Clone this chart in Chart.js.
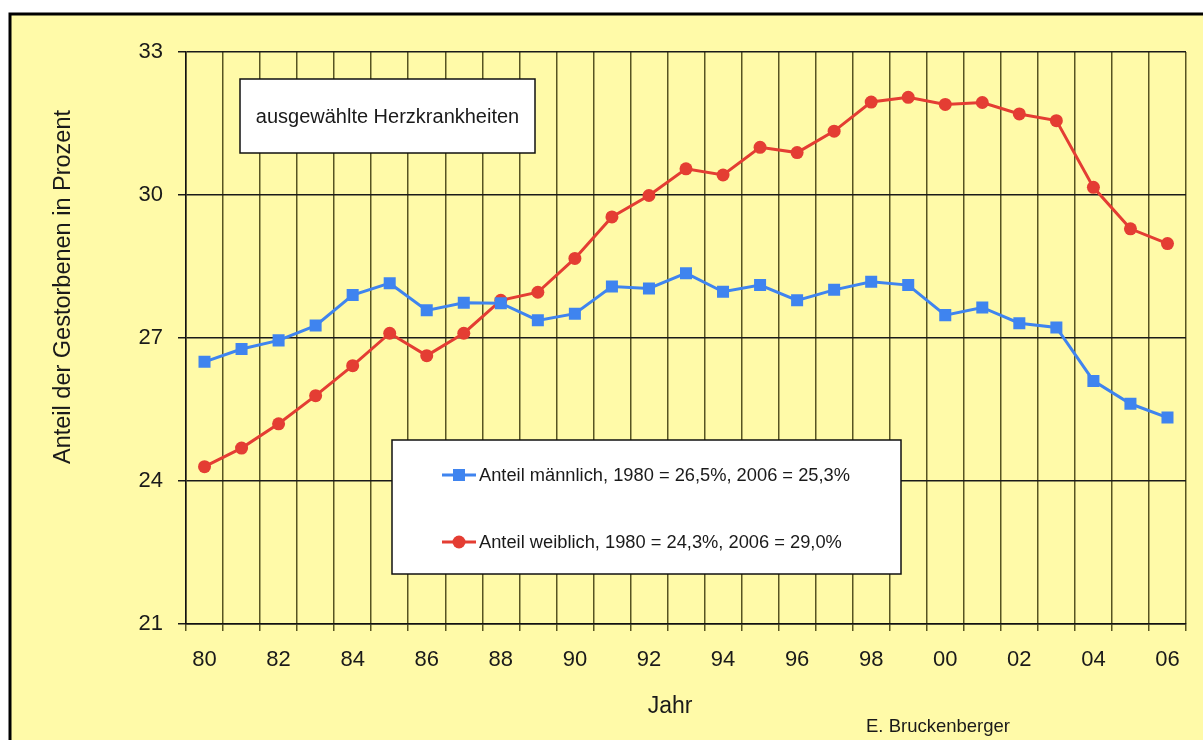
<!DOCTYPE html>
<html>
<head>
<meta charset="utf-8">
<script src="https://cdn.jsdelivr.net/npm/chart.js@4.4.1/dist/chart.umd.min.js"></script>
<style>
  html, body { margin: 0; padding: 0; background: #fff; }
  canvas { display: block; }
</style>
</head>
<body>
<canvas id="chart" width="1203" height="740"></canvas>
<script>
// ===== Anteil der Gestorbenen – ausgewählte Herzkrankheiten =====
const years = ['80', '81', '82', '83', '84', '85', '86', '87', '88', '89',
               '90', '91', '92', '93', '94', '95', '96', '97', '98', '99',
               '00', '01', '02', '03', '04', '05', '06'];

const maleShare = [26.5, 26.77, 26.95, 27.26, 27.9, 28.15, 27.58, 27.74, 27.73, 27.37,
                   27.51, 28.08, 28.04, 28.36, 27.97, 28.11, 27.79, 28.01, 28.18, 28.11,
                   27.48, 27.64, 27.31, 27.22, 26.1, 25.62, 25.33];

const femaleShare = [24.3, 24.69, 25.2, 25.79, 26.42, 27.1, 26.63, 27.1, 27.79, 27.96,
                     28.67, 29.54, 29.99, 30.55, 30.42, 31.0, 30.89, 31.34, 31.95, 32.05,
                     31.9, 31.94, 31.7, 31.56, 30.16, 29.29, 28.98];

const yMin = 21, yMax = 33, yStep = 3;

const maleLabel   = 'Anteil männlich, 1980 = 26,5%, 2006 = 25,3%';
const femaleLabel = 'Anteil weiblich, 1980 = 24,3%, 2006 = 29,0%';
const boxTitle    = 'ausgewählte Herzkrankheiten';
const yTitle      = 'Anteil der Gestorbenen in Prozent';
const xTitle      = 'Jahr';
const author      = 'E. Bruckenberger';

const FONT   = '"Liberation Sans", Arial, Helvetica, sans-serif';
const INK    = '#1a1a1a';
const YELLOW = '#fffaa8';
const BLUE   = '#3f84ef';
const RED    = '#e43d33';

// ---- frame, boxes and free texts ----
const framePlugin = {
  id: 'frame',
  beforeDraw(chart) {
    const { ctx, width, height } = chart;
    ctx.save();
    ctx.fillStyle = '#fff';
    ctx.fillRect(0, 0, width, height);
    ctx.fillStyle = YELLOW;
    ctx.fillRect(10, 14, width - 10, height - 14);
    ctx.strokeStyle = '#000';
    ctx.lineWidth = 3;
    ctx.beginPath();
    ctx.moveTo(10, height);
    ctx.lineTo(10, 14);
    ctx.lineTo(width, 14);
    ctx.stroke();
    ctx.restore();
  },
  afterDraw(chart) {
    const { ctx, chartArea: ca } = chart;
    ctx.save();

    // title box
    const tb = { x: ca.left + 54, y: ca.top + 27, w: 295, h: 74 };
    ctx.fillStyle = '#fff';
    ctx.fillRect(tb.x, tb.y, tb.w, tb.h);
    ctx.strokeStyle = '#111';
    ctx.lineWidth = 1.5;
    ctx.strokeRect(tb.x, tb.y, tb.w, tb.h);
    ctx.fillStyle = INK;
    ctx.font = '20px ' + FONT;
    ctx.textAlign = 'center';
    ctx.textBaseline = 'middle';
    ctx.fillText(boxTitle, tb.x + tb.w / 2, tb.y + tb.h / 2 + 1);

    // legend box
    const lb = { x: ca.left + 206, y: ca.top + 388, w: 509, h: 134 };
    ctx.fillStyle = '#fff';
    ctx.fillRect(lb.x, lb.y, lb.w, lb.h);
    ctx.strokeRect(lb.x, lb.y, lb.w, lb.h);
    ctx.font = '18.3px ' + FONT;
    ctx.textAlign = 'left';
    chart.data.datasets.forEach((ds, i) => {
      const y = lb.y + 35 + i * 67;
      const x0 = lb.x + 50;
      ctx.strokeStyle = ds.borderColor;
      ctx.lineWidth = 3;
      ctx.beginPath();
      ctx.moveTo(x0, y);
      ctx.lineTo(x0 + 34, y);
      ctx.stroke();
      ctx.fillStyle = ds.backgroundColor;
      Chart.helpers.drawPoint(ctx, {
        pointStyle: ds.pointStyle, radius: ds.pointRadius, rotation: 0, borderWidth: 0
      }, x0 + 17, y);
      ctx.fillStyle = INK;
      ctx.fillText(ds.label, x0 + 37, y + 1);
    });

    // axis titles and author
    ctx.fillStyle = INK;
    ctx.font = '23px ' + FONT;
    ctx.textAlign = 'center';
    ctx.fillText(xTitle, 670, 707);
    ctx.font = '18.5px ' + FONT;
    ctx.fillText(author, 938, 727);

    ctx.translate(64, 287);
    ctx.rotate(-Math.PI / 2);
    ctx.font = '23.5px ' + FONT;
    ctx.fillText(yTitle, 0, 0);

    ctx.restore();
  }
};

new Chart(document.getElementById('chart'), {
  type: 'line',
  data: {
    labels: years,
    datasets: [
      {
        label: maleLabel,
        data: maleShare,
        borderColor: BLUE,
        backgroundColor: BLUE,
        borderWidth: 3,
        pointStyle: 'rect',
        pointRadius: 8.5,
        pointBorderWidth: 0,
        tension: 0,
      },
      {
        label: femaleLabel,
        data: femaleShare,
        borderColor: RED,
        backgroundColor: RED,
        borderWidth: 3,
        pointStyle: 'circle',
        pointRadius: 6.5,
        pointBorderWidth: 0,
        tension: 0,
      },
    ],
  },
  options: {
    responsive: false,
    animation: false,
    devicePixelRatio: 1,
    layout: { padding: { left: 0, top: 52, right: 17, bottom: 0 } },
    scales: {
      x: {
        type: 'category',
        offset: true,
        afterFit(scale) { scale.height = 116; },
        grid: {
          offset: true,
          color: 'rgba(45,42,0,0.8)',
          lineWidth: 1.5,
          tickLength: 7,
          tickColor: 'rgba(45,42,0,0.8)',
        },
        border: { display: true, color: '#111', width: 1.5 },
        ticks: {
          autoSkip: false,
          maxRotation: 0,
          padding: 16,
          color: INK,
          font: { size: 22, family: FONT },
          callback: (v, i) => (i % 2 === 0 ? years[i] : ''),
        },
      },
      y: {
        min: yMin,
        max: yMax,
        afterFit(scale) { scale.width = 186; },
        grid: { color: '#1a1a1a', lineWidth: 1.5, tickLength: 8, tickColor: '#1a1a1a' },
        border: { display: true, color: '#111', width: 1.5 },
        ticks: {
          stepSize: yStep,
          padding: 15,
          color: INK,
          font: { size: 22, family: FONT },
        },
      },
    },
    plugins: {
      legend: { display: false },
      tooltip: { enabled: false },
    },
  },
  plugins: [framePlugin],
});
</script>
</body>
</html>
